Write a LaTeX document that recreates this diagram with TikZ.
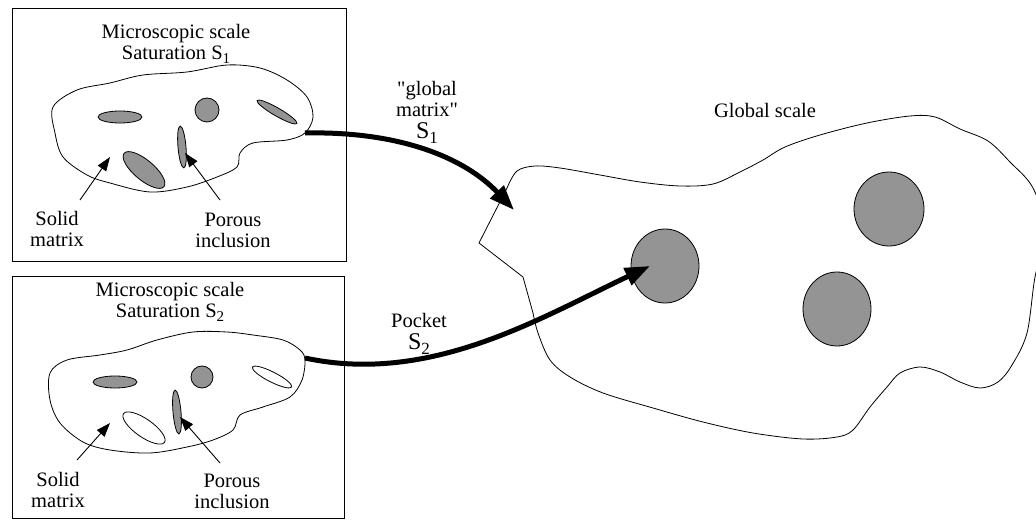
\documentclass[tikz,border=0pt]{standalone}
\usepackage{fontspec}
\setmainfont{Liberation Serif}[Ligatures=TeXOff]
\usetikzlibrary{arrows.meta}
\newcommand{\Sx}[2][15]{S\raisebox{-0.45ex}{\fontsize{#1}{#1}\selectfont #2}}
\begin{document}
\begin{tikzpicture}[x=1pt,y=-1pt,
  txt/.style={font=\fontsize{20.5}{21}\selectfont, align=center, inner sep=0pt},
  frame/.style={draw, line width=0.8pt},
  outline/.style={draw, line width=0.8pt},
  incl/.style={draw, line width=0.8pt, fill=black!42},
  hollow/.style={draw, line width=0.8pt},
  thinarrow/.style={line width=0.9pt, -{Triangle[length=14pt,width=10pt]}},
  thickarrow/.style={line width=5pt, -{Triangle[length=25pt,width=18pt]}}]
\useasboundingbox (0,0) rectangle (1036,521);

% ---------- top box ----------
\draw[frame] (12,8) rectangle (346,261);
\node[txt] (title1) at (176,44) {Microscopic scale\\Saturation \Sx{1}};
\draw[outline] plot[smooth cycle, tension=0.55] coordinates {
 (53,107) (77,90) (110,83) (143,75) (187,72) (227,65) (260,68) (287,80)
 (307,97) (313,117) (305,133) (287,140) (253,143) (240,153) (237,167)
 (217,177) (187,187) (150,192) (110,183) (87,175) (63,157) (55,133)};
\draw[incl] (120,117) ellipse [x radius=22, y radius=6];
\draw[incl] (207,110) circle [radius=12];
\draw[incl, rotate around={-30:(277,112)}] (277,112) ellipse [x radius=23, y radius=4];
\draw[incl, rotate around={-85:(182,147)}] (182,147) ellipse [x radius=21, y radius=4];
\draw[incl, rotate around={-40:(144,170)}] (144,170) ellipse [x radius=26, y radius=10];
\node[txt] (solid1) at (57,229) {Solid\\matrix};
\node[txt] (porous1) at (233,230) {Porous\\inclusion};
\coordinate (s1tail) at (80,200);
\coordinate (s1tip) at (110,157);
\coordinate (p1tail) at (220,200);
\coordinate (p1tip) at (185,153);
\draw[thinarrow] (s1tail) -- (s1tip);
\draw[thinarrow] (p1tail) -- (p1tip);
\coordinate (b1out) at (305,133);

% ---------- bottom box ----------
\draw[frame] (12,276) rectangle (344,518);
\node[txt] (title2) at (170,302) {Microscopic scale\\Saturation \Sx{2}};
\draw[outline] plot[smooth cycle, tension=0.55] coordinates {
 (50,373) (67,360) (100,355) (127,350) (157,340) (193,332) (227,332)
 (253,335) (283,340) (300,350) (305,360) (302,380) (290,397) (263,407)
 (240,415) (233,430) (213,440) (187,447) (150,453) (110,450) (83,442)
 (60,423) (50,400)};
\draw[incl] (115,382) ellipse [x radius=22, y radius=6];
\draw[incl] (202,377) circle [radius=11];
\draw[hollow, rotate around={-27:(272,377)}] (272,377) ellipse [x radius=22, y radius=5];
\draw[incl, rotate around={-85:(177,412)}] (177,412) ellipse [x radius=22, y radius=4];
\draw[hollow, rotate around={-35:(144,428)}] (144,428) ellipse [x radius=25, y radius=9];
\node[txt] (solid2) at (58,490) {Solid\\matrix};
\node[txt] (porous2) at (232,491) {Porous\\inclusion};
\coordinate (s2tail) at (77,460);
\coordinate (s2tip) at (110,423);
\coordinate (p2tail) at (220,463);
\coordinate (p2tip) at (180,417);
\draw[thinarrow] (s2tail) -- (s2tip);
\draw[thinarrow] (p2tail) -- (p2tip);
\coordinate (b2out) at (305,358);

% ---------- global scale ----------
\node[txt] (globallabel) at (765,110) {Global scale};
\draw[outline] plot[smooth, tension=0.55] coordinates {
 (507,188) (517,171) (535,166) (560,168) (600,175) (640,182) (680,186)
 (713,184) (740,172) (763,160) (785,147) (820,135) (867,123) (910,116)
 (935,117) (960,129) (988,141) (1010,162) (1033,188) (1046,232)
 (1035,277) (1027,333) (1012,365) (998,382) (980,388) (960,382)
 (940,372) (920,367) (900,373) (887,387) (870,407) (853,430) (837,437)
 (803,439) (753,433) (703,422) (653,408) (603,393) (570,377) (550,360)
 (538,333) (533,313)} -- (523,277) -- (479,243) -- cycle;
\draw[incl] (665,266) ellipse [x radius=34, y radius=37];
\draw[incl] (889,209) ellipse [x radius=35, y radius=37];
\draw[incl] (837,309) ellipse [x radius=34, y radius=37];
\coordinate (gin1) at (514,210);
\coordinate (gin2) at (650,266);

% ---------- transfer arrows ----------
\draw[thickarrow] (b1out) .. controls (400,131) and (465,158) .. (gin1);
\draw[thickarrow] (b2out) .. controls (430,385) and (540,318) .. (gin2);
\node[txt] (gmlabel) at (427,112) {"global\\matrix"\\[1pt]{\fontsize{24}{24}\selectfont\Sx[17]{1}}};
\node[txt] (pocketlabel) at (419,334) {Pocket\\[1pt]{\fontsize{24}{24}\selectfont\Sx[17]{2}}};
\end{tikzpicture}
\end{document}
